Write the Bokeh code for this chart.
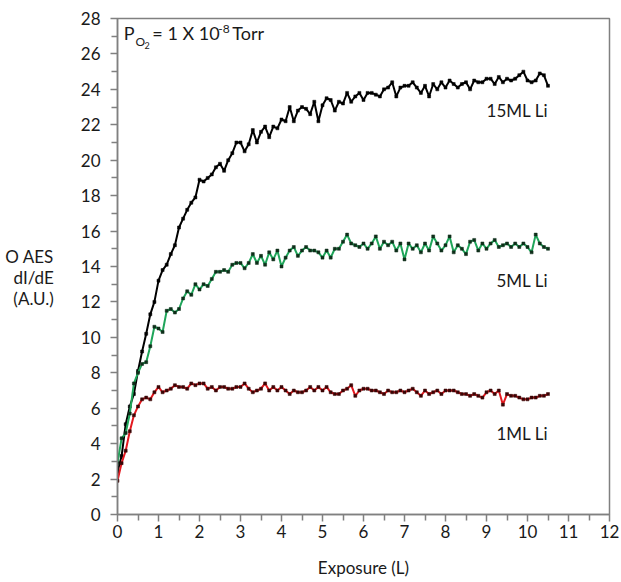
from bokeh.plotting import figure
from bokeh.models import Range1d, Label, FixedTicker
from bokeh.embed import file_html
from bokeh.resources import INLINE

exposure = [
    0.0, 0.1, 0.2, 0.3, 0.4, 0.5, 0.6, 0.7, 0.8, 0.9,
    1.0, 1.1, 1.2, 1.3, 1.4, 1.5, 1.6, 1.7, 1.8, 1.9,
    2.0, 2.1, 2.2, 2.3, 2.4, 2.5, 2.6, 2.7, 2.8, 2.9,
    3.0, 3.1, 3.2, 3.3, 3.4, 3.5, 3.6, 3.7, 3.8, 3.9,
    4.0, 4.1, 4.2, 4.3, 4.4, 4.5, 4.6, 4.7, 4.8, 4.9,
    5.0, 5.1, 5.2, 5.3, 5.4, 5.5, 5.6, 5.7, 5.8, 5.9,
    6.0, 6.1, 6.2, 6.3, 6.4, 6.5, 6.6, 6.7, 6.8, 6.9,
    7.0, 7.1, 7.2, 7.3, 7.4, 7.5, 7.6, 7.7, 7.8, 7.9,
    8.0, 8.1, 8.2, 8.3, 8.4, 8.5, 8.6, 8.7, 8.8, 8.9,
    9.0, 9.1, 9.2, 9.3, 9.4, 9.5, 9.6, 9.7, 9.8, 9.9,
    10.0, 10.1, 10.2, 10.3, 10.4, 10.5,
]

li_15ml = [
    2.4, 3.3, 5.1, 6.1, 6.8, 8.1, 9.2, 10.2, 11.3, 12.0,
    13.2, 13.8, 14.1, 14.7, 15.2, 16.2, 16.7, 17.2, 17.6, 17.9,
    18.9, 18.8, 19.0, 19.2, 19.6, 19.8, 19.4, 20.0, 20.4, 21.0,
    21.0, 20.5, 20.9, 21.7, 21.0, 21.6, 21.9, 21.3, 21.9, 21.8,
    22.3, 22.2, 23.0, 22.2, 22.8, 23.0, 22.9, 22.6, 23.3, 22.2,
    23.1, 23.5, 23.4, 22.8, 23.3, 23.2, 23.8, 23.3, 23.6, 23.8,
    23.4, 23.8, 23.8, 23.7, 23.6, 24.0, 24.1, 24.4, 23.6, 24.1,
    24.2, 24.2, 24.4, 24.1, 23.8, 24.2, 23.6, 24.3, 24.0, 24.4,
    24.1, 24.5, 24.3, 24.1, 24.3, 24.4, 24.0, 24.5, 24.4, 24.4,
    24.6, 24.6, 24.3, 24.7, 24.4, 24.6, 24.5, 24.6, 24.8, 25.0,
    24.5, 24.4, 24.5, 24.9, 24.8, 24.2,
]

li_5ml = [
    2.9, 4.3, 4.6, 5.7, 7.4, 8.0, 8.5, 8.6, 9.5, 10.6,
    10.5, 10.3, 11.5, 11.6, 11.4, 11.6, 12.2, 12.6, 12.4, 13.0,
    12.7, 13.0, 12.9, 13.3, 13.7, 13.7, 13.8, 13.7, 14.1, 14.2,
    14.2, 13.9, 14.2, 14.7, 14.2, 14.6, 14.1, 14.8, 14.4, 14.9,
    14.0, 14.5, 14.9, 15.1, 14.6, 14.9, 15.1, 14.9, 14.9, 14.8,
    14.5, 14.9, 14.5, 15.0, 15.0, 15.4, 15.8, 15.3, 15.2, 15.1,
    15.3, 15.0, 15.3, 15.7, 15.0, 15.4, 15.2, 15.4, 14.9, 15.3,
    14.4, 15.3, 15.0, 15.2, 14.8, 15.3, 14.9, 15.7, 15.3, 14.9,
    15.2, 15.7, 14.8, 15.2, 15.0, 14.7, 15.4, 15.5, 14.9, 15.3,
    15.0, 15.3, 15.5, 15.1, 15.2, 15.3, 15.1, 15.3, 15.1, 15.3,
    15.1, 14.8, 15.8, 15.3, 15.1, 15.0,
]

li_1ml = [
    1.9, 2.9, 3.6, 4.7, 5.6, 6.1, 6.5, 6.6, 6.5, 6.9,
    7.2, 6.9, 7.0, 7.1, 7.3, 7.2, 7.2, 7.1, 7.4, 7.3,
    7.4, 7.4, 7.1, 7.2, 7.0, 7.2, 7.2, 7.1, 7.1, 7.2,
    7.2, 7.4, 7.1, 6.9, 7.0, 7.1, 7.4, 7.0, 7.2, 7.0,
    7.2, 7.0, 6.8, 7.0, 6.9, 6.9, 7.0, 7.2, 7.0, 7.2,
    7.0, 7.2, 6.9, 6.8, 6.8, 7.0, 7.1, 7.3, 6.7, 7.0,
    7.1, 7.1, 7.0, 7.0, 6.9, 6.8, 7.0, 6.9, 6.9, 7.0,
    6.9, 7.0, 7.1, 6.9, 6.7, 7.0, 6.8, 6.9, 7.0, 6.8,
    7.0, 7.0, 7.0, 6.9, 6.8, 6.8, 6.7, 6.8, 6.7, 6.6,
    6.9, 7.0, 6.8, 7.0, 6.2, 6.8, 6.7, 6.7, 6.6, 6.5,
    6.5, 6.6, 6.6, 6.7, 6.7, 6.8,
]

x_ticks = list(range(0, 13))
y_ticks = list(range(0, 29, 2))
series_labels = ["15ML Li", "5ML Li", "1ML Li"]

FONT = "Lato"
AXIS_GRAY = "#808080"
TEXT = "#1a1a1a"

p = figure(width=621, height=582, output_backend="svg", toolbar_location=None,
           x_range=Range1d(0, 12), y_range=Range1d(0, 28),
           min_border_left=117, min_border_right=12,
           min_border_top=18, min_border_bottom=68)
p.xgrid.visible = False
p.ygrid.visible = False
p.outline_line_color = AXIS_GRAY
p.outline_line_width = 1.5

p.xaxis.ticker = FixedTicker(ticks=x_ticks, minor_ticks=[t + 0.5 for t in x_ticks[:-1]])
p.yaxis.ticker = FixedTicker(ticks=y_ticks, minor_ticks=[t + 1 for t in y_ticks[:-1]])
for ax in (p.xaxis[0], p.yaxis[0]):
    ax.axis_line_color = AXIS_GRAY
    ax.axis_line_width = 1.5
    ax.major_tick_line_color = AXIS_GRAY
    ax.minor_tick_line_color = AXIS_GRAY
    ax.major_tick_line_width = 1.5
    ax.minor_tick_line_width = 1.5
    ax.major_tick_in = 0
    ax.major_tick_out = 7
    ax.minor_tick_in = 0
    ax.minor_tick_out = 6
    ax.major_label_text_font = FONT
    ax.major_label_text_font_size = "17px"
    ax.major_label_text_color = TEXT
    ax.axis_label_text_font = FONT
    ax.axis_label_text_font_size = "17px"
    ax.axis_label_text_font_style = "normal"
    ax.axis_label_text_color = TEXT
p.xaxis.major_label_standoff = 3
p.yaxis.major_label_standoff = 10
p.xaxis.axis_label = "Exposure (L)"
p.xaxis.axis_label_standoff = 16

# horizontal three-line y-axis title (leading blank line shifts block down)
p.yaxis.axis_label = "\nO AES\ndI/dE\n(A.U.)"
p.yaxis.axis_label_orientation = "horizontal"
p.yaxis.axis_label_text_line_height = 1.0
p.yaxis.axis_label_standoff = 24

# series
p.line(exposure, li_15ml, line_color="#000000", line_width=2)
p.scatter(exposure, li_15ml, marker="square", size=3, fill_color="#000000", line_color="#000000", line_width=0.5)
p.line(exposure, li_5ml, line_color="#1fa55a", line_width=2)
p.scatter(exposure, li_5ml, marker="square", size=3, fill_color="#0f2f1a", line_color="#0f2f1a", line_width=0.5)
p.line(exposure, li_1ml, line_color="#e3191f", line_width=2)
p.scatter(exposure, li_1ml, marker="square", size=3, fill_color="#3a0606", line_color="#3a0606", line_width=0.5)

def lab(x, y, text, size="17px", align="left"):
    p.add_layout(Label(x=x, y=y, text=text, text_font=FONT, text_font_size=size,
                       text_color=TEXT, text_align=align, text_baseline="middle"))

lab(10.5, 22.8, series_labels[0], align="right")
lab(10.5, 13.2, series_labels[1], align="right")
lab(10.5, 4.57, series_labels[2], align="right")

# pressure annotation
lab(0.15, 27.2, "P", size="18px")
lab(0.44, 26.7, "O", size="12px")
lab(0.66, 26.5, "2", size="9px")
lab(0.85, 27.2, "= 1 X 10", size="18px")
lab(2.46, 27.42, "-8", size="12px")
lab(2.80, 27.2, "Torr", size="18px")

open("out.html", "w").write(file_html(p, INLINE))
